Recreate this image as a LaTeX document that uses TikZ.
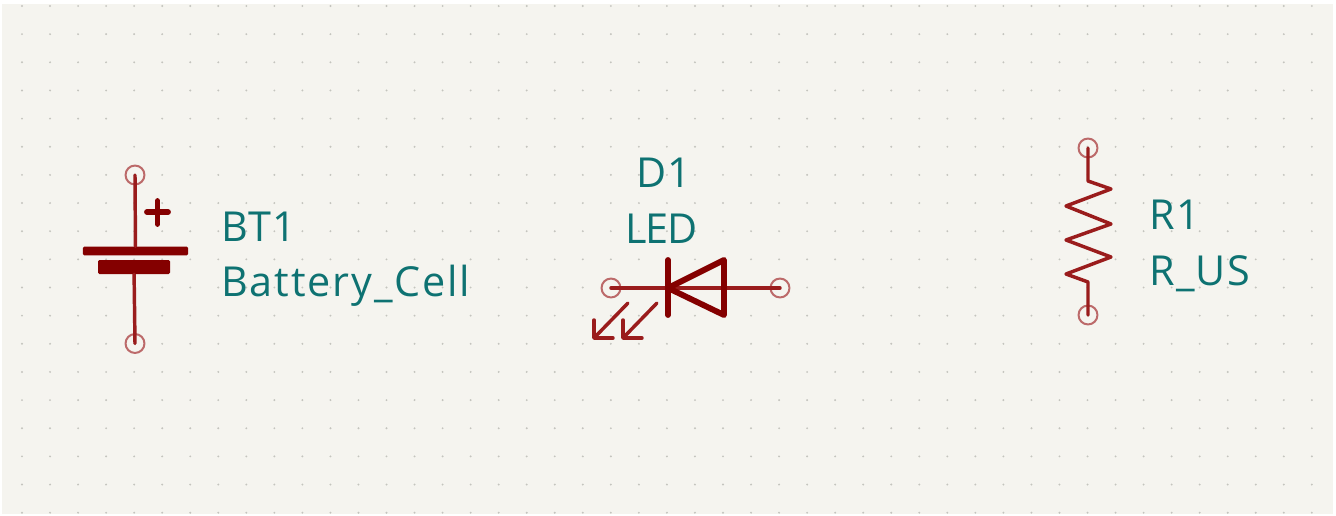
\documentclass[tikz,border=0pt]{standalone}
\usepackage{fontspec}
\setmainfont{Open Sans}[LetterSpace=3]
\definecolor{sheet}{HTML}{F5F4EF}
\definecolor{griddot}{HTML}{C4C4BE}
\definecolor{body}{HTML}{840000}
\definecolor{wire}{HTML}{9A1C1C}
\definecolor{pinring}{HTML}{BC6A6A}
\definecolor{reftext}{HTML}{0E7272}
\tikzset{
  font={\fontsize{31pt}{36}\selectfont},
  pin/.style={circle,draw=pinring,line width=1.5pt,minimum size=14.2pt,inner sep=0pt},
  plate/.style={rectangle,fill=body,rounded corners=1pt,inner sep=0pt},
  lead/.style={draw=wire,line width=2.6pt,line cap=round,line join=round},
  thick body/.style={draw=body,line width=4.4pt,line cap=round,line join=round},
  label/.style={anchor=base west,text=reftext,inner sep=0pt}}
\begin{document}
\begin{tikzpicture}[x=0.75pt,y=-0.75pt]
\useasboundingbox (0,0) rectangle (1336,515);
\fill[white] (0,0) rectangle (1336,515);
\fill[sheet] (2,4) rectangle (1333,514);
\foreach \i in {0,...,46}
  \foreach \j in {0,...,18}
    \fill[griddot] (22+28.04*\i,6+28.15*\j) circle[radius=0.8pt];

\node[pin] (btp) at (135,175) {};
\node[pin] (btn) at (135,343.5) {};
\node[plate,minimum width=78.8pt,minimum height=6.6pt] (btpos) at (135.5,251) {};
\node[plate,minimum width=54pt,minimum height=10.5pt] (btneg) at (134,267) {};
\draw[lead] (btp.center) -- (btpos);
\draw[lead] (btneg) -- (btn.center);
\draw[draw=body,line width=4.4pt,line cap=round] (147,212) -- (168,212) (157.5,201) -- (157.5,224);
\node[label] (btref) at (221,241) {BT1};
\node[label] (btval) at (221,296) {\addfontfeature{LetterSpace=4.5}Battery\_Cell};

\node[pin] (da) at (611,288) {};
\node[pin] (dk) at (780,288) {};
\draw[lead] (da.center) -- (dk.center);
\draw[thick body] (668,260) -- (668,315);
\draw[thick body] (668,288) -- (724,260) -- (724,315) -- cycle;
\draw[lead] (628,303) -- (594,338);
\draw[lead] (613,338) -- (594,338) -- (594,320);
\draw[lead] (657,303) -- (623,338);
\draw[lead] (642,338) -- (623,338) -- (623,320);
\node[label] (dref) at (636,187) {D1};
\node[label] (dval) at (625,243) {\addfontfeature{LetterSpace=-3}LED};

\node[pin] (ra) at (1088,148) {};
\node[pin] (rb) at (1088,315) {};
\draw[lead] (ra.center) -- (1088,181) -- (1111,189) -- (1066,206) -- (1111,224)
  -- (1066,240) -- (1111,257) -- (1066,274) -- (1088,282) -- (rb.center);
\node[label] (rref) at (1149,229) {R1};
\node[label] (rval) at (1149,285) {R\_US};
\end{tikzpicture}
\end{document}
